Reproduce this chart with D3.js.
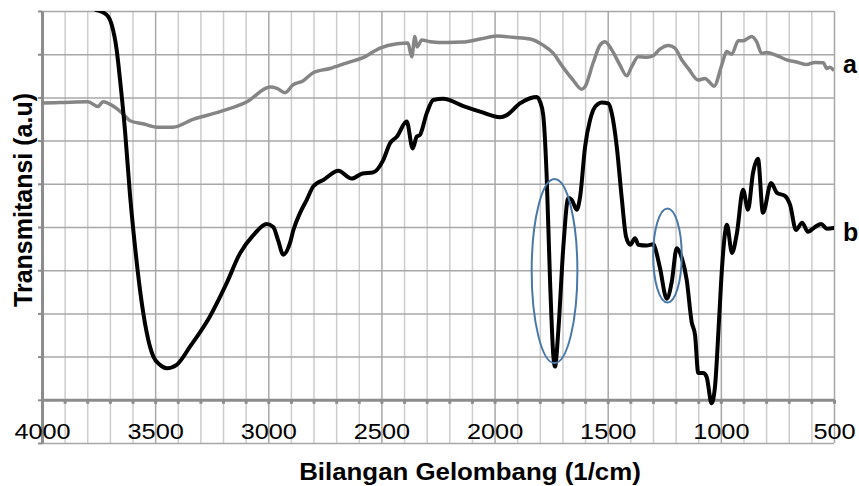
<!DOCTYPE html>
<html>
<head>
<meta charset="utf-8">
<script src="https://cdn.jsdelivr.net/npm/d3@7"></script>
<style>
  body { margin: 0; background: #fff; }
  text { font-family: "Liberation Sans", Arial, sans-serif; }
</style>
</head>
<body>
<div id="chart"></div>
<script>
// spectrum a (grey)
var waveA = [4000, 3920, 3797, 3753, 3730, 3686, 3646, 3611, 3554, 3492, 3421, 3333, 3213, 3094,
  2992, 2962, 2926, 2891, 2847, 2802, 2727, 2652, 2581, 2506, 2431, 2383, 2366, 2352, 2343, 2321,
  2285, 2210, 2140, 2064, 1989, 1919, 1843, 1786, 1742, 1698, 1653, 1615, 1600, 1565, 1534, 1512,
  1482, 1446, 1416, 1394, 1365, 1328, 1300, 1271, 1232, 1203, 1173, 1144, 1100, 1070, 1048, 1030,
  996, 974, 952, 923, 902, 864, 842, 820, 797, 753, 709, 665, 621, 584, 547, 532, 518, 500];
var transA = [6.87, 6.88, 6.90, 6.79, 6.90, 6.80, 6.64, 6.46, 6.39, 6.31, 6.31, 6.49, 6.67, 6.90,
  7.24, 7.21, 7.11, 7.29, 7.38, 7.57, 7.67, 7.80, 7.92, 8.14, 8.24, 8.26, 7.94, 8.41, 8.17, 8.33,
  8.29, 8.27, 8.28, 8.35, 8.42, 8.39, 8.35, 8.21, 8.03, 7.70, 7.40, 7.19, 7.25, 7.79, 8.21, 8.29,
  8.10, 7.75, 7.50, 7.71, 7.94, 7.93, 7.96, 8.11, 8.20, 8.14, 7.87, 7.67, 7.40, 7.44, 7.34, 7.26,
  7.75, 8.06, 8.00, 8.31, 8.31, 8.41, 8.29, 8.02, 8.04, 7.97, 7.87, 7.82, 7.76, 7.81, 7.80, 7.67, 7.70, 7.62];

// spectrum b (black)
var waveB = [3760, 3714, 3692, 3670, 3655, 3633, 3611, 3589, 3567, 3537, 3508, 3479, 3449, 3405,
  3346, 3258, 3184, 3125, 3066, 3007, 2978, 2957, 2934, 2904, 2889, 2860, 2830, 2801,
  2786, 2757, 2691, 2631, 2584, 2539, 2492, 2462, 2432, 2388, 2362, 2344, 2330, 2300, 2271, 2227,
  2138, 2064, 1976, 1946, 1888, 1843, 1814, 1799, 1785, 1770, 1755, 1740, 1733, 1718, 1696, 1674,
  1659, 1637, 1622, 1600, 1578, 1564, 1542, 1527, 1497, 1482, 1460, 1438, 1419, 1401, 1379, 1365,
  1328, 1298, 1291, 1269, 1239, 1217, 1195, 1173, 1151, 1129, 1114, 1100, 1078, 1063, 1041, 1026,
  1008, 995, 973, 951, 929, 902, 880, 858, 836, 814, 778, 752, 717, 694, 668, 641, 615, 584, 557, 531, 500];
var transB = [9.02, 8.91, 8.68, 8.10, 7.40, 6.22, 4.74, 3.55, 2.55, 1.55, 1.00, 0.81, 0.73, 0.81,
  1.23, 1.93, 2.70, 3.39, 3.81, 4.07, 4.00, 3.70, 3.36, 3.63, 3.93, 4.32, 4.63, 4.94,
  5.01, 5.09, 5.30, 5.12, 5.24, 5.26, 5.55, 5.94, 6.09, 6.44, 5.82, 6.09, 6.13, 6.63, 6.94, 6.97,
  6.80, 6.67, 6.54, 6.59, 6.86, 6.98, 7.01, 6.90, 6.59, 5.21, 2.78, 1.00, 0.77, 1.62, 3.55, 4.67,
  4.63, 4.40, 4.70, 5.86, 6.48, 6.71, 6.85, 6.88, 6.86, 6.63, 5.86, 4.67, 3.78, 3.59, 3.74, 3.59,
  3.57, 3.60, 3.52, 3.05, 2.34, 2.73, 3.51, 3.29, 2.78, 1.80, 1.50, 0.62, 0.62, 0.53, -0.08, 0.30,
  1.85, 3.05, 4.05, 3.40, 3.86, 4.86, 4.40, 5.25, 5.58, 4.33, 5.02, 4.79, 4.72, 4.51, 3.93, 4.10, 3.89, 4.00, 4.07, 3.96, 3.98];

var xLabelTicks = [4000, 3500, 3000, 2500, 2000, 1500, 1000, 500];

// highlighted bands (centre wavenumber, centre value, half width, half height)
var bandCentre = [1735, 1236];
var bandLevel = [2.98, 3.34];
var bandHalfWidth = [101, 63];
var bandHalfHeight = [2.13, 1.09];

var margin = {top: 11, right: 25, bottom: 43, left: 42},
    width = 859 - margin.left - margin.right,
    height = 486 - margin.top - margin.bottom;

var svg = d3.select("#chart")
  .append("svg")
    .attr("width", width + margin.left + margin.right)
    .attr("height", height + margin.top + margin.bottom)
  .append("g")
    .attr("transform", "translate(" + margin.left + "," + margin.top + ")");

var x = d3.scaleLinear().domain([4000, 500]).range([0, width]);
var y = d3.scaleLinear().domain([-1, 9]).range([height, 0]);

// vertical grid, every 100 cm-1
var vGrid = svg.append("g")
  .attr("transform", "translate(0," + height + ")")
  .call(d3.axisBottom(x).tickValues(d3.range(4000, 499, -100)).tickSize(-height).tickFormat(""));
vGrid.select(".domain").remove();
vGrid.selectAll("line")
  .attr("stroke", function(d) { return d % 500 === 0 ? "#a8a8a8" : "#cdcdcd"; })
  .attr("stroke-width", 1.5);

// horizontal grid
var hGrid = svg.append("g")
  .call(d3.axisLeft(y).tickValues(d3.range(-1, 10)).tickSize(-width).tickFormat(""));
hGrid.select(".domain").remove();
hGrid.selectAll("line").attr("stroke", "#a8a8a8").attr("stroke-width", 1.5);

// left axis with small ticks
var yAxis = svg.append("g")
  .call(d3.axisLeft(y).tickValues(d3.range(-1, 10)).tickSize(4).tickSizeOuter(0).tickFormat(""));
yAxis.select(".domain").attr("stroke", "#8c8c8c").attr("stroke-width", 3);
yAxis.selectAll("line").attr("stroke", "#8c8c8c").attr("stroke-width", 2);

// x axis at zero
var xAxis = svg.append("g")
  .attr("transform", "translate(0," + y(0) + ")")
  .call(d3.axisBottom(x).tickValues(d3.range(4000, 499, -100)).tickSize(4).tickSizeOuter(0).tickFormat(""));
xAxis.select(".domain").attr("stroke", "#8c8c8c").attr("stroke-width", 3);
xAxis.selectAll("line").attr("stroke", "#8c8c8c").attr("stroke-width", 3);

var xLabels = svg.append("g")
  .attr("transform", "translate(0," + y(0) + ")")
  .call(d3.axisBottom(x).tickValues(xLabelTicks).tickSize(0).tickFormat(d3.format("d")));
xLabels.select(".domain").remove();
xLabels.selectAll("text")
  .attr("y", 0).attr("dy", null)
  .attr("transform", "translate(0,39) scale(1.15,1)")
  .style("font-size", "22px")
  .style("font-family", "'Liberation Sans', Arial, sans-serif")
  .attr("fill", "#000");

svg.append("clipPath").attr("id", "plotClip")
  .append("rect").attr("x", 0).attr("y", 0).attr("width", width).attr("height", height);

var lineA = d3.line()
  .curve(d3.curveMonotoneX)
  .x(function(d, i) { return x(waveA[i]); })
  .y(function(d, i) { return y(transA[i]); });
var lineB = d3.line()
  .curve(d3.curveMonotoneX)
  .x(function(d, i) { return x(waveB[i]); })
  .y(function(d, i) { return y(transB[i]); });

svg.append("path")
  .datum(waveA)
  .attr("clip-path", "url(#plotClip)")
  .attr("d", lineA)
  .attr("fill", "none")
  .attr("stroke", "#858585")
  .attr("stroke-width", 3.5)
  .attr("stroke-linejoin", "round");

svg.append("path")
  .datum(waveB)
  .attr("clip-path", "url(#plotClip)")
  .attr("d", lineB)
  .attr("fill", "none")
  .attr("stroke", "#000")
  .attr("stroke-width", 4)
  .attr("stroke-linejoin", "round")
  .attr("stroke-linecap", "round");

// ellipses round the marked bands
svg.selectAll("ellipse.band")
  .data(bandCentre)
  .enter().append("ellipse")
    .attr("class", "band")
    .attr("cx", function(d) { return x(d); })
    .attr("cy", function(d, i) { return y(bandLevel[i]); })
    .attr("rx", function(d, i) { return x(d - bandHalfWidth[i]) - x(d); })
    .attr("ry", function(d, i) { return y(0) - y(bandHalfHeight[i]); })
    .attr("fill", "none")
    .attr("stroke", "#4a79a8")
    .attr("stroke-width", 2);

// series labels
svg.append("text")
  .attr("x", x(500) + 9).attr("y", y(transA[transA.length - 1]) + 2)
  .style("font-size", "25px").style("font-weight", "bold")
  .text("a");
svg.append("text")
  .attr("x", x(500) + 9).attr("y", y(transB[transB.length - 1]) + 13)
  .style("font-size", "25px").style("font-weight", "bold")
  .text("b");

// axis titles
svg.append("text")
  .attr("transform", "translate(" + (470 - margin.left) + "," + (480 - margin.top) + ") scale(1.1,1)")
  .attr("text-anchor", "middle")
  .style("font-size", "23.5px").style("font-weight", "bold")
  .text("Bilangan Gelombang (1/cm)");

svg.append("text")
  .attr("transform", "translate(" + (32 - margin.left) + "," + (200 - margin.top) + ") rotate(-90)")
  .attr("text-anchor", "middle")
  .style("font-size", "25px").style("font-weight", "bold")
  .text("Transmitansi (a.u)");
</script>
</body>
</html>
